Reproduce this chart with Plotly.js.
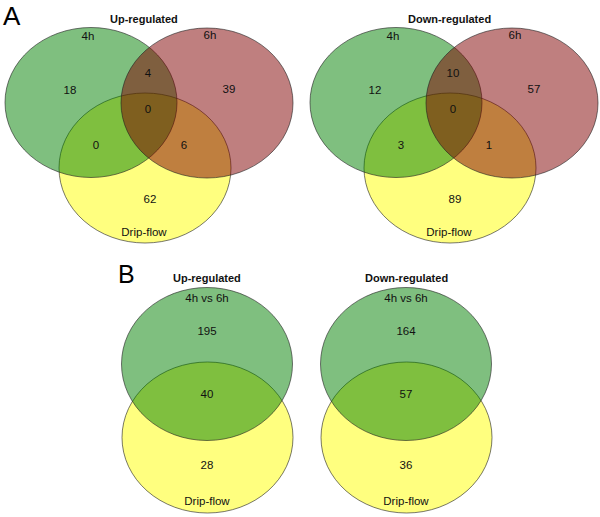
<!DOCTYPE html>
<html>
<head>
<meta charset="utf-8">
<script src="https://cdn.plot.ly/plotly-3.0.1.min.js"></script>
<style>html,body{margin:0;padding:0;background:#fff;}#chart{width:600px;height:517px;}</style>
</head>
<body>
<div id="chart"></div>
<script>
// ---- data ----
const panelLetters = ['A', 'B'];
const panelTitles = ['Up-regulated', 'Down-regulated'];
const setNamesA = ['4h', '6h', 'Drip-flow'];
// regions: only 4h, only 6h, only Drip-flow, 4h&6h, 4h&Drip, 6h&Drip, all three
const upA = [18, 39, 62, 4, 0, 6, 0];
const downA = [12, 57, 89, 10, 3, 1, 0];
const setNamesB = ['4h vs 6h', 'Drip-flow'];
// regions: only 4h vs 6h, only Drip-flow, both
const upB = [195, 28, 40];
const downB = [164, 36, 57];

// ---- geometry (layout, in page pixels) ----
const geoA = {
  circles: [ // yellow, green, red drawing order
    {cx: 145, cy: 168, rx: 86, ry: 75, fill: 'rgba(255,255,0,0.5)'},
    {cx: 91, cy: 102.5, rx: 86, ry: 75, fill: 'rgba(0,128,0,0.5)'},
    {cx: 207, cy: 103, rx: 86, ry: 75, fill: 'rgba(128,0,0,0.5)'}
  ],
  setLabelPos: [[88, 37], [210, 36], [144, 233]],
  regionPos: [[70, 91], [229, 90], [150, 200], [148, 74], [96, 146], [184, 146], [148, 110]],
  titlePos: [144, 19]
};
const offsetsA = [0, 305];
const geoB = {
  circles: [
    {cx: 207.5, cy: 437.5, rx: 85.5, ry: 75.5, fill: 'rgba(255,255,0,0.5)'},
    {cx: 207, cy: 364, rx: 85.5, ry: 76.5, fill: 'rgba(0,128,0,0.5)'}
  ],
  setLabelPos: [[207, 299], [207, 502]],
  regionPos: [[207, 332], [207, 466], [207, 395]],
  titlePos: [207, 278]
};
const offsetsB = [0, 199];

const FONT = 'Liberation Sans, Arial, sans-serif';
const shapes = [];
const traces = [];
const annotations = [];

function addPanel(geo, dx, setNames, values, title) {
  geo.circles.forEach(c => {
    shapes.push({type: 'circle', xref: 'x', yref: 'y', layer: 'below',
      x0: c.cx + dx - c.rx, x1: c.cx + dx + c.rx, y0: c.cy - c.ry, y1: c.cy + c.ry,
      fillcolor: c.fill, line: {color: 'rgba(30,30,30,0.75)', width: 0.8}});
  });
  traces.push({type: 'scatter', mode: 'text', hoverinfo: 'skip', cliponaxis: false,
    x: geo.regionPos.map(p => p[0] + dx), y: geo.regionPos.map(p => p[1]),
    text: values.map(String), textposition: 'middle center',
    textfont: {family: FONT, size: 11.5, color: '#111'}, showlegend: false});
  traces.push({type: 'scatter', mode: 'text', hoverinfo: 'skip', cliponaxis: false,
    x: geo.setLabelPos.map(p => p[0] + dx), y: geo.setLabelPos.map(p => p[1]),
    text: setNames, textposition: 'middle center',
    textfont: {family: FONT, size: 11.5, color: '#111'}, showlegend: false});
  annotations.push({xref: 'x', yref: 'y', x: geo.titlePos[0] + dx, y: geo.titlePos[1],
    text: '<b>' + title + '</b>', showarrow: false, xanchor: 'center', yanchor: 'middle',
    font: {family: FONT, size: 11, color: '#111'}});
}

addPanel(geoA, offsetsA[0], setNamesA, upA, panelTitles[0]);
addPanel(geoA, offsetsA[1], setNamesA, downA, panelTitles[1]);
addPanel(geoB, offsetsB[0], setNamesB, upB, panelTitles[0]);
addPanel(geoB, offsetsB[1], setNamesB, downB, panelTitles[1]);

annotations.push({xref: 'x', yref: 'y', x: 12, y: 16, text: panelLetters[0], showarrow: false,
  xanchor: 'center', yanchor: 'middle', font: {family: FONT, size: 26, color: '#000'}});
annotations.push({xref: 'x', yref: 'y', x: 126, y: 274, text: panelLetters[1], showarrow: false,
  xanchor: 'center', yanchor: 'middle', font: {family: FONT, size: 25, color: '#000'}});

const layout = {
  width: 600, height: 517,
  margin: {l: 0, r: 0, t: 0, b: 0},
  paper_bgcolor: '#fff', plot_bgcolor: '#fff',
  xaxis: {range: [0, 600], visible: false, fixedrange: true},
  yaxis: {range: [517, 0], visible: false, fixedrange: true},
  shapes: shapes, annotations: annotations, showlegend: false
};
Plotly.newPlot('chart', traces, layout, {staticPlot: true});
</script>
</body>
</html>
